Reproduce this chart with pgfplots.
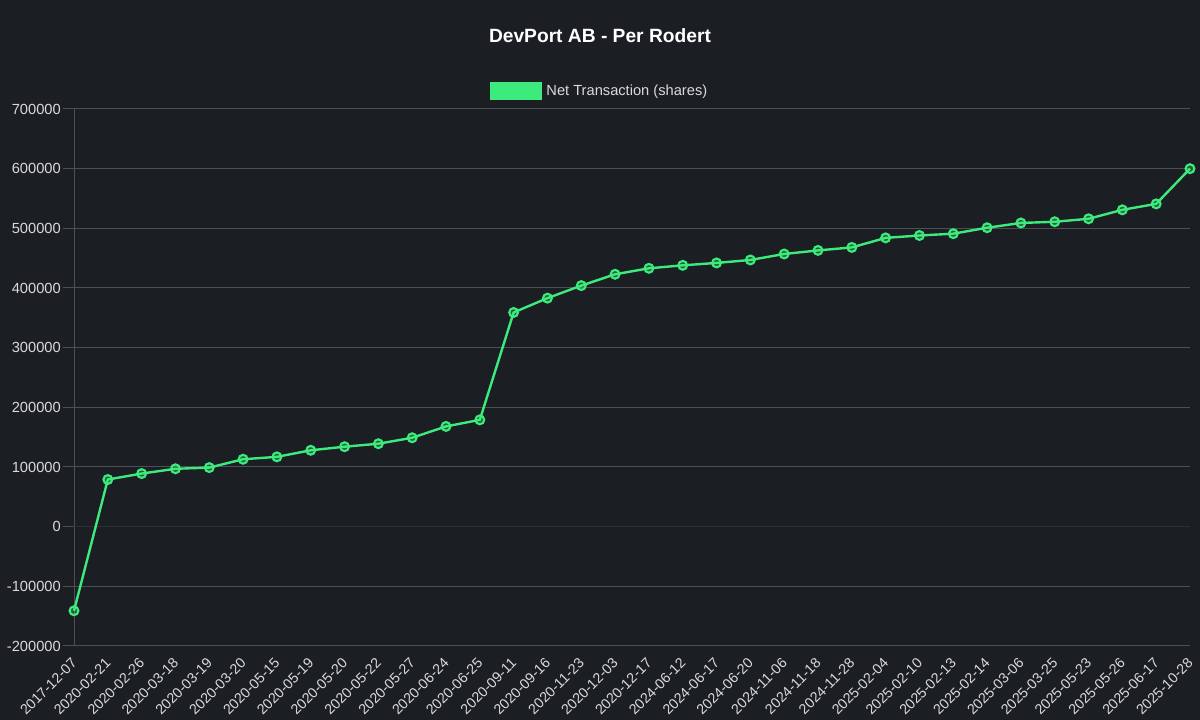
\documentclass[border=0pt]{standalone}
\usepackage{pgfplots}
\pgfplotsset{compat=1.18}
\usepackage{fontspec}
\setmainfont{Liberation Sans}

\definecolor{bgcol}{HTML}{1B1E22}
\definecolor{gridcol}{HTML}{4C4F54}
\definecolor{zerocol}{HTML}{2C2F33}
\definecolor{lgreen}{HTML}{3DEA7C}
\definecolor{labcol}{HTML}{DADADA}

\begin{document}
\begin{tikzpicture}
\fill[bgcol] (0,0) rectangle (900pt,540pt);
\begin{axis}[
    at={(55.5pt,55.5pt)}, anchor=south west,
    scale only axis, width=837pt, height=402.75pt,
    xmin=0, xmax=33,
    ymin=-200000, ymax=700000,
    ytick={-200000,-100000,100000,200000,300000,400000,500000,600000,700000},
    extra y ticks={0},
    extra y tick style={grid style={zerocol, line width=0.75pt}},
    scaled y ticks=false,
    /pgf/number format/assume math mode=true,
    yticklabel={\pgfmathprintnumber[fixed,1000 sep={}]{\tick}},
    xtick={0,...,33},
    xticklabels={2017-12-07,2020-02-21,2020-02-26,2020-03-18,2020-03-19,2020-03-20,
        2020-05-15,2020-05-19,2020-05-20,2020-05-22,2020-05-27,2020-06-24,2020-06-25,
        2020-09-11,2020-09-16,2020-11-23,2020-12-03,2020-12-17,2024-06-12,2024-06-17,
        2024-06-20,2024-11-06,2024-11-18,2024-11-28,2025-02-04,2025-02-10,2025-02-13,
        2025-02-14,2025-03-06,2025-03-25,2025-05-23,2025-05-26,2025-06-17,2025-10-28},
    xticklabel style={xshift=-2.5pt, yshift=1.5pt, rotate=45, anchor=north east,
        font=\fontsize{10.7pt}{12pt}\selectfont, text=labcol, inner sep=1pt},
    yticklabel style={font=\fontsize{11pt}{13pt}\selectfont, text=labcol, inner sep=1.5pt},
    axis x line=bottom, axis y line=left,
    x axis line style={draw=none},
    y axis line style={-, gridcol, line width=0.75pt},
    xtick style={draw=none},
    ytick style={gridcol, line width=0.75pt},
    tick align=outside,
    major tick length=8.25pt,
    ymajorgrids,
    grid style={gridcol, line width=0.75pt},
    clip=false,
    title={DevPort AB - Per Rodert},
    title style={at={(0.4713,1)}, anchor=base, yshift=43.5pt,
        font=\fontsize{14.4pt}{17pt}\selectfont\bfseries, text=white},
    legend style={at={(0.4713,1.0335)}, anchor=center, draw=none, fill=none,
        text=labcol, font=\fontsize{11pt}{13pt}\selectfont, inner sep=0pt},
    legend image code/.code={\fill[lgreen] (0pt,-6pt) rectangle (37pt,6pt); \path (38.5pt,0pt);},
]
\addplot[color=lgreen, line width=1.8pt, mark=*, mark size=3.3pt,
    mark options={draw=lgreen, fill=lgreen, fill opacity=0.3, line width=1.6pt}]
coordinates {
(0,-141000) (1,79000) (2,89000) (3,97000) (4,99000) (5,113000) (6,117000)
(7,128000) (8,134000) (9,139000) (10,149000) (11,168000) (12,179000)
(13,359000) (14,383000) (15,404000) (16,423000) (17,433000) (18,438000)
(19,442000) (20,447000) (21,457000) (22,463000) (23,468000) (24,484000)
(25,488000) (26,491000) (27,501000) (28,509000) (29,511000) (30,516000)
(31,531000) (32,541000) (33,600000)
};
\addlegendentry{Net Transaction (shares)}
\end{axis}
\pgfresetboundingbox
\path (0,0) rectangle (900pt,540pt);
\end{tikzpicture}
\end{document}
